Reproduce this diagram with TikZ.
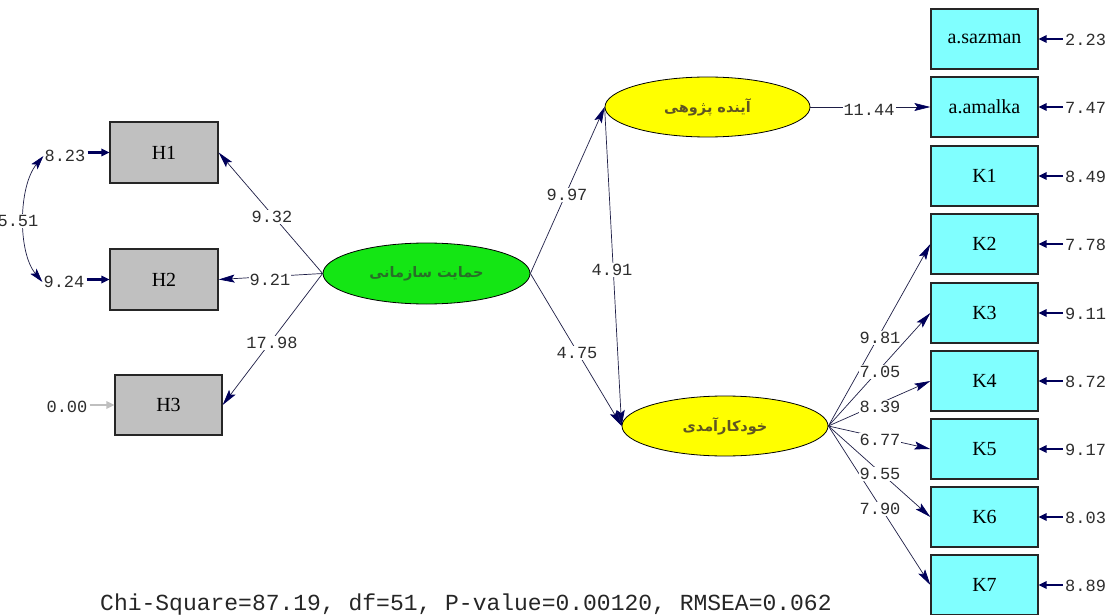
\documentclass[tikz,border=0pt]{standalone}
\usepackage{fontspec}
\setmainfont{Liberation Serif}
\newfontfamily\monof{Liberation Mono}
\newfontfamily\farsi[Script=Arabic]{DejaVu Sans}
\TeXXeTstate=1
\usetikzlibrary{shapes.geometric,arrows.meta}
\definecolor{lisgreen}{RGB}{20,230,20}
\definecolor{lisyellow}{RGB}{255,255,0}
\definecolor{liscyan}{RGB}{128,255,255}
\definecolor{lisgray}{RGB}{192,192,192}
\definecolor{lisline}{RGB}{30,30,70}
\definecolor{lishead}{RGB}{0,0,90}
\definecolor{lislabel}{RGB}{45,45,45}
\definecolor{gtext}{RGB}{40,110,40}
\definecolor{ytext}{RGB}{95,85,35}
% error arrow pointing left into the east side of box #2, from label #1
\newcommand\myerrleft[3]{%
  \draw[line width=2.8pt,draw=#3] ([xshift=-2pt]#1.west |- #2) -- ([xshift=6pt]#2.east);
  \fill[#3] (#2.east) -- ([xshift=8pt,yshift=4pt]#2.east) -- ([xshift=8pt,yshift=-4pt]#2.east) -- cycle;}
% error arrow pointing right into the west side of box #2, from label #1
\newcommand\myerrright[3]{%
  \draw[line width=2.8pt,draw=#3] ([xshift=1pt]#1.east |- #2) -- ([xshift=-6pt]#2.west);
  \fill[#3] (#2.west) -- ([xshift=-8pt,yshift=4pt]#2.west) -- ([xshift=-8pt,yshift=-4pt]#2.west) -- cycle;}
\begin{document}
\begin{tikzpicture}[x=1pt,y=-1pt,
  latent/.style={ellipse,draw=black,line width=0.8pt,inner sep=0pt},
  obsbox/.style={rectangle,draw=black!85,line width=1.3pt,minimum width=107pt,minimum height=60pt,inner sep=0pt,font=\fontsize{20}{22}\selectfont},
  conn/.style={draw=lisline,line width=0.7pt,-{Stealth[length=16pt,width=8pt,inset=3pt,color=lishead,fill=lishead]}},
  covarr/.style={draw=lisline,line width=0.7pt,{Stealth[length=14pt,width=8pt,inset=3pt,color=lishead,fill=lishead]}-{Stealth[length=14pt,width=8pt,inset=3pt,color=lishead,fill=lishead]}},
  lbl/.style={font=\monof\fontsize{17}{17}\selectfont,text=lislabel,fill=white,inner sep=1pt},
  rlbl/.style={lbl,anchor=west,fill=none,inner sep=0pt},
  fa/.style={font=\farsi\bfseries\fontsize{14.5}{16}\selectfont}
]
\useasboundingbox[fill=white] (0,0) rectangle (1112,615);

% latent variables
\node[latent,fill=lisgreen,minimum width=207pt,minimum height=61pt,fa,text=gtext] (G) at (426.5,273.5) {\beginR حمایت سازمانی\endR};
\node[latent,fill=lisyellow,minimum width=205pt,minimum height=60pt,fa,text=ytext] (Y1) at (707.5,107) {\beginR آینده پژوهی\endR};
\node[latent,fill=lisyellow,minimum width=206pt,minimum height=60pt,fa,text=ytext] (Y2) at (725,426) {\beginR خودکارآمدی\endR};

% observed, left
\node[obsbox,fill=lisgray,minimum width=108pt,minimum height=61pt] (H1) at (164,152.5) {H1};
\node[obsbox,fill=lisgray,minimum width=108pt,minimum height=61pt] (H2) at (164,279.5) {H2};
\node[obsbox,fill=lisgray] (H3) at (168.5,405) {H3};

% observed, right
\node[obsbox,fill=liscyan] (A1) at (984.5,39) {a.sazman};
\node[obsbox,fill=liscyan] (A2) at (984.5,107) {a.amalka};
\node[obsbox,fill=liscyan] (K1) at (984.5,176) {K1};
\node[obsbox,fill=liscyan] (K2) at (984.5,244) {K2};
\node[obsbox,fill=liscyan] (K3) at (984.5,313) {K3};
\node[obsbox,fill=liscyan] (K4) at (984.5,381) {K4};
\node[obsbox,fill=liscyan] (K5) at (984.5,449) {K5};
\node[obsbox,fill=liscyan] (K6) at (984.5,517) {K6};
\node[obsbox,fill=liscyan] (K7) at (984.5,585) {K7};

% error labels, left
\node[lbl] (e1) at (65,156) {8.23};
\node[lbl] (e2) at (64,282) {9.24};
\node[lbl] (e3) at (67,407) {0.00};
\myerrright{e1}{H1}{lishead}
\myerrright{e2}{H2}{lishead}
\myerrright{e3}{H3}{black!25}
\draw[covarr] (e1.west) .. controls +(-25,30) and +(-25,-30) .. (e2.west);
\node[lbl] (c12) at (18,221) {5.51};

% error labels, right
\node[rlbl] (ra1) at (1065,40) {2.23};
\node[rlbl] (ra2) at (1065,108) {7.47};
\node[rlbl] (rk1) at (1065,177) {8.49};
\node[rlbl] (rk2) at (1065,245) {7.78};
\node[rlbl] (rk3) at (1065,314) {9.11};
\node[rlbl] (rk4) at (1065,382) {8.72};
\node[rlbl] (rk5) at (1065,450) {9.17};
\node[rlbl] (rk6) at (1065,518) {8.03};
\node[rlbl] (rk7) at (1065,586) {8.89};
\myerrleft{ra1}{A1}{lishead}
\myerrleft{ra2}{A2}{lishead}
\myerrleft{rk1}{K1}{lishead}
\myerrleft{rk2}{K2}{lishead}
\myerrleft{rk3}{K3}{lishead}
\myerrleft{rk4}{K4}{lishead}
\myerrleft{rk5}{K5}{lishead}
\myerrleft{rk6}{K6}{lishead}
\myerrleft{rk7}{K7}{lishead}

% structural and measurement paths
\draw[conn] (G.west) -- (H1.east);
\draw[conn] (G.west) -- (H2.east);
\draw[conn] (G.west) -- (H3.east);
\draw[conn] (G.east) -- (Y1.west);
\draw[conn] (G.east) -- (Y2.west);
\draw[conn] (Y1.west) -- (Y2.west);
\draw[conn] (Y1.east) -- (A2.west);
\draw[conn] (Y2.east) -- (K2.west);
\draw[conn] (Y2.east) -- (K3.west);
\draw[conn] (Y2.east) -- (K4.west);
\draw[conn] (Y2.east) -- (K5.west);
\draw[conn] (Y2.east) -- (K6.west);
\draw[conn] (Y2.east) -- (K7.west);

% path labels
\node[lbl] (l1) at (272,217) {9.32};
\node[lbl] (l2) at (270,280) {9.21};
\node[lbl] (l3) at (272,343) {17.98};
\node[lbl] (l4) at (567,195) {9.97};
\node[lbl] (l5) at (612,270) {4.91};
\node[lbl] (l6) at (577,353) {4.75};
\node[lbl] (l7) at (869,110) {11.44};
\node[lbl] (l8) at (880,338) {9.81};
\node[lbl] (l9) at (880,372) {7.05};
\node[lbl] (l10) at (880,407) {8.39};
\node[lbl] (l11) at (880,440) {6.77};
\node[lbl] (l12) at (880,474) {9.55};
\node[lbl] (l13) at (880,509) {7.90};

% fit line
\node[anchor=base west,inner sep=0pt,font=\monof\fontsize{23}{24}\selectfont,text=black!85] (fit) at (100,610) {Chi-Square=87.19, df=51, P-value=0.00120, RMSEA=0.062};
\end{tikzpicture}
\end{document}
